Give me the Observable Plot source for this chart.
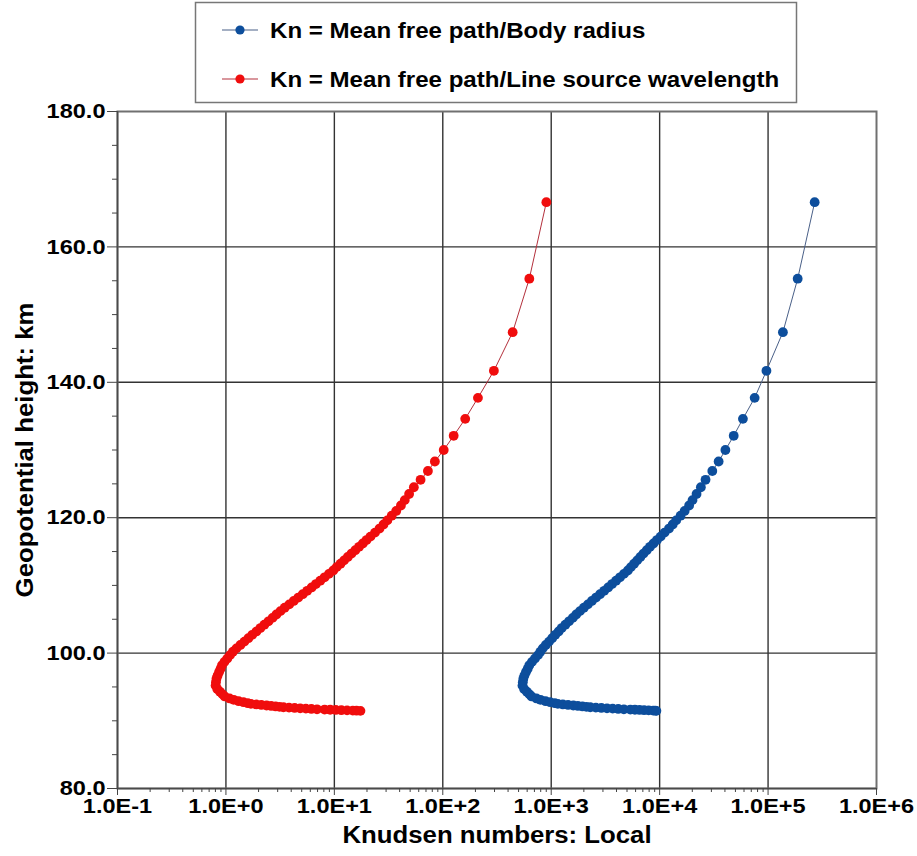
<!DOCTYPE html>
<html><head><meta charset="utf-8">
<script src="https://cdn.jsdelivr.net/npm/d3@7"></script>
<script src="https://cdn.jsdelivr.net/npm/@observablehq/plot@0.6"></script>
<style>
html,body{margin:0;padding:0;background:#fff;}
#chart{position:relative;width:917px;height:856px;}
#chart svg text{font-family:"Liberation Sans",Arial,sans-serif;font-weight:bold;fill:#000;}
</style></head><body><div id="chart"></div>
<script>
// Geopotential heights (km) shared by both series
const altitudeKm = [
  166.6,155.3,147.4,141.7,137.7,134.6,132.1,130.0,128.3,126.9,125.6,124.5,
  123.5,122.6,121.8,121.0,120.3,119.6,119.0,118.4,117.8,117.2,116.7,116.2,115.7,115.2,114.7,114.2,113.7,113.2,112.7,
  112.2,111.7,111.2,110.7,110.2,109.7,109.2,108.7,108.2,107.7,107.2,106.7,106.2,105.7,105.2,104.7,104.2,103.7,103.2,102.7,102.2,101.7,101.2,100.7,100.2,99.7,99.2,
  98.7,98.2,97.7,97.2,96.7,96.2,95.7,95.2,94.7,94.3,93.9,93.6,
  93.3,93.1,92.9,92.75,92.6,92.5,92.42,92.34,92.26,92.19,92.12,92.06,92.0,
  91.95,91.9,91.85,91.8,91.75,91.7,91.66,91.63,91.6,91.57,91.54,91.51,91.49,91.47
];
// Kn = Mean free path / Line source wavelength (red)
const knLineSource = [
  902,628,441,296,211,161,126,102,84.5,72.9,62.4,54.1,
  48.9,44.6,41.1,37.2,33.8,30.8,28.4,26.1,23.7,21.5,19.8,18.3,16.9,15.6,14.4,13.3,12.3,11.4,10.5,
  9.77,8.91,8.13,7.41,6.76,6.17,5.62,5.11,4.65,4.22,3.84,3.48,3.18,2.92,2.69,2.47,2.26,2.08,1.91,1.75,1.61,1.48,1.36,1.25,1.16,1.09,1.03,
  0.968,0.920,0.893,0.865,0.838,0.818,0.809,0.803,0.832,0.881,0.933,0.975,
  1.08,1.18,1.31,1.45,1.59,1.70,1.90,2.12,2.37,2.61,2.87,3.12,3.39,
  3.82,4.30,4.84,5.46,6.14,6.92,8.13,9.16,10.3,11.6,13.1,14.8,16.0,17.4
];
// Kn = Mean free path / Body radius (blue)
const knBodyRadius = [
  269000,187500,137000,96600,75200,58600,48200,40400,35000,30600,26500,24000,
  21900,20100,18700,17000,15600,14200,13200,12200,11100,10200,9440,8770,8150,7600,7100,6640,6210,5810,5430,
  5090,4680,4310,3960,3640,3350,3080,2820,2590,2370,2180,2000,1840,1700,1580,1460,1350,1250,1170,1090,1020,955,891,836,794,755,708,
  664,628,607,585,566,553,547,543,562,596,631,659,
  731,796,887,977,1080,1150,1280,1430,1600,1760,1940,2110,2290,
  2580,2900,3270,3690,4150,4680,5370,5920,6520,7180,7910,8710,9120,9330
];

const xTicks = [0.1,1,10,100,1000,10000,100000,1000000];
const xTickLabels = ["1.0E-1","1.0E+0","1.0E+1","1.0E+2","1.0E+3","1.0E+4","1.0E+5","1.0E+6"];
const yTicks = [80,100,120,140,160,180];
const yTickLabels = ["80.0","100.0","120.0","140.0","160.0","180.0"];
const yMinorTicks = [85,90,95,105,110,115,125,130,135,145,150,155,165,170,175];
const xMinorTicks = [];
for (let k = 0; k < 6; k++) for (let m = 2; m <= 9; m++) xMinorTicks.push(m * xTicks[k]);

const seriesNames = ["Kn = Mean free path/Body radius", "Kn = Mean free path/Line source wavelength"];
const dotColors = ["#0d4e9c", "#f00d0d"];
const lineColors = ["#4a6088", "#b3303c"];
const xTitle = "Knudsen numbers: Local";
const yTitle = "Geopotential height: km";

const rows = altitudeKm.map((h, i) => ({h, red: knLineSource[i], blue: knBodyRadius[i]}));

const plot = Plot.plot({
  width: 917, height: 856,
  marginTop: 111, marginBottom: 68, marginLeft: 117, marginRight: 41,
  style: {fontFamily: "Liberation Sans, Arial, sans-serif", fontSize: "21px", fontWeight: "bold", color: "#000", background: "#fff", overflow: "visible"},
  x: {type: "log", domain: [0.1, 1e6]},
  y: {domain: [80, 180]},
  marks: [
    Plot.gridX(xTicks.slice(1, -1), {stroke: "#333", strokeOpacity: 1, strokeWidth: 1.4}),
    Plot.gridY(yTicks.slice(1, -1), {stroke: "#333", strokeOpacity: 1, strokeWidth: 1.4}),
    Plot.frame({stroke: "#707070", strokeWidth: 2}),
    Plot.ruleX([0.1], {stroke: "#4a4a4a", strokeWidth: 1.5}),
    Plot.ruleY([80], {stroke: "#4a4a4a", strokeWidth: 1.5}),
    Plot.axisX(xTicks, {tickSize: 7, tickPadding: 3, stroke: "#444", tickFormat: d => xTickLabels[xTicks.indexOf(d)], fontSize: 21, label: null}),
    Plot.axisX(xMinorTicks, {tickSize: 4, stroke: "#444", tickFormat: () => "", label: null}),
    Plot.axisY(yTicks, {tickSize: 10, tickPadding: 2, stroke: "#444", tickFormat: d => yTickLabels[yTicks.indexOf(d)], fontSize: 21, label: null}),
    Plot.axisY(yMinorTicks, {tickSize: 5, stroke: "#444", tickFormat: () => "", label: null}),
    Plot.line(rows, {x: "red", y: "h", stroke: lineColors[1], strokeWidth: 1}),
    Plot.dot(rows, {x: "red", y: "h", r: 4.9, fill: dotColors[1]}),
    Plot.line(rows, {x: "blue", y: "h", stroke: lineColors[0], strokeWidth: 1}),
    Plot.dot(rows, {x: "blue", y: "h", r: 4.9, fill: dotColors[0]}),
    Plot.text([xTitle], {text: d => d, frameAnchor: "bottom", dy: 47, lineAnchor: "middle", textAnchor: "middle", fontSize: 23, fontWeight: "bold", fill: "#000"}),
    Plot.text([yTitle], {text: d => d, frameAnchor: "left", dx: -92, rotate: -90, lineAnchor: "middle", textAnchor: "middle", fontSize: 23, fontWeight: "bold", fill: "#000"})
  ]
});

document.getElementById("chart").append(plot);

// legend
const svg = d3.select(plot);
const lg = svg.append("g").attr("text-anchor", "start");
lg.append("rect").attr("x", 195.5).attr("y", 2.5).attr("width", 601).attr("height", 100)
  .attr("fill", "#fff").attr("stroke", "#777").attr("stroke-width", 1.5);
const rowY = [30, 79];
seriesNames.forEach((name, i) => {
  const cy = rowY[i];
  lg.append("line").attr("x1", 222).attr("x2", 258).attr("y1", cy).attr("y2", cy)
    .attr("stroke", lineColors[i]).attr("stroke-width", 1.2);
  lg.append("circle").attr("cx", 240).attr("cy", cy).attr("r", 4.6).attr("fill", dotColors[i]);
  lg.append("text").attr("x", 270).attr("y", cy).attr("dy", "0.36em")
    .attr("text-anchor", "start").attr("font-size", 21.5).text(name);
});

// widen glyphs horizontally to match the reference lettering
plot.querySelectorAll("text").forEach(t => {
  const w = t.getComputedTextLength();
  if (w > 0) {
    t.setAttribute("textLength", (w * 1.12).toFixed(1));
    t.setAttribute("lengthAdjust", "spacingAndGlyphs");
  }
});
</script>
</body></html>
